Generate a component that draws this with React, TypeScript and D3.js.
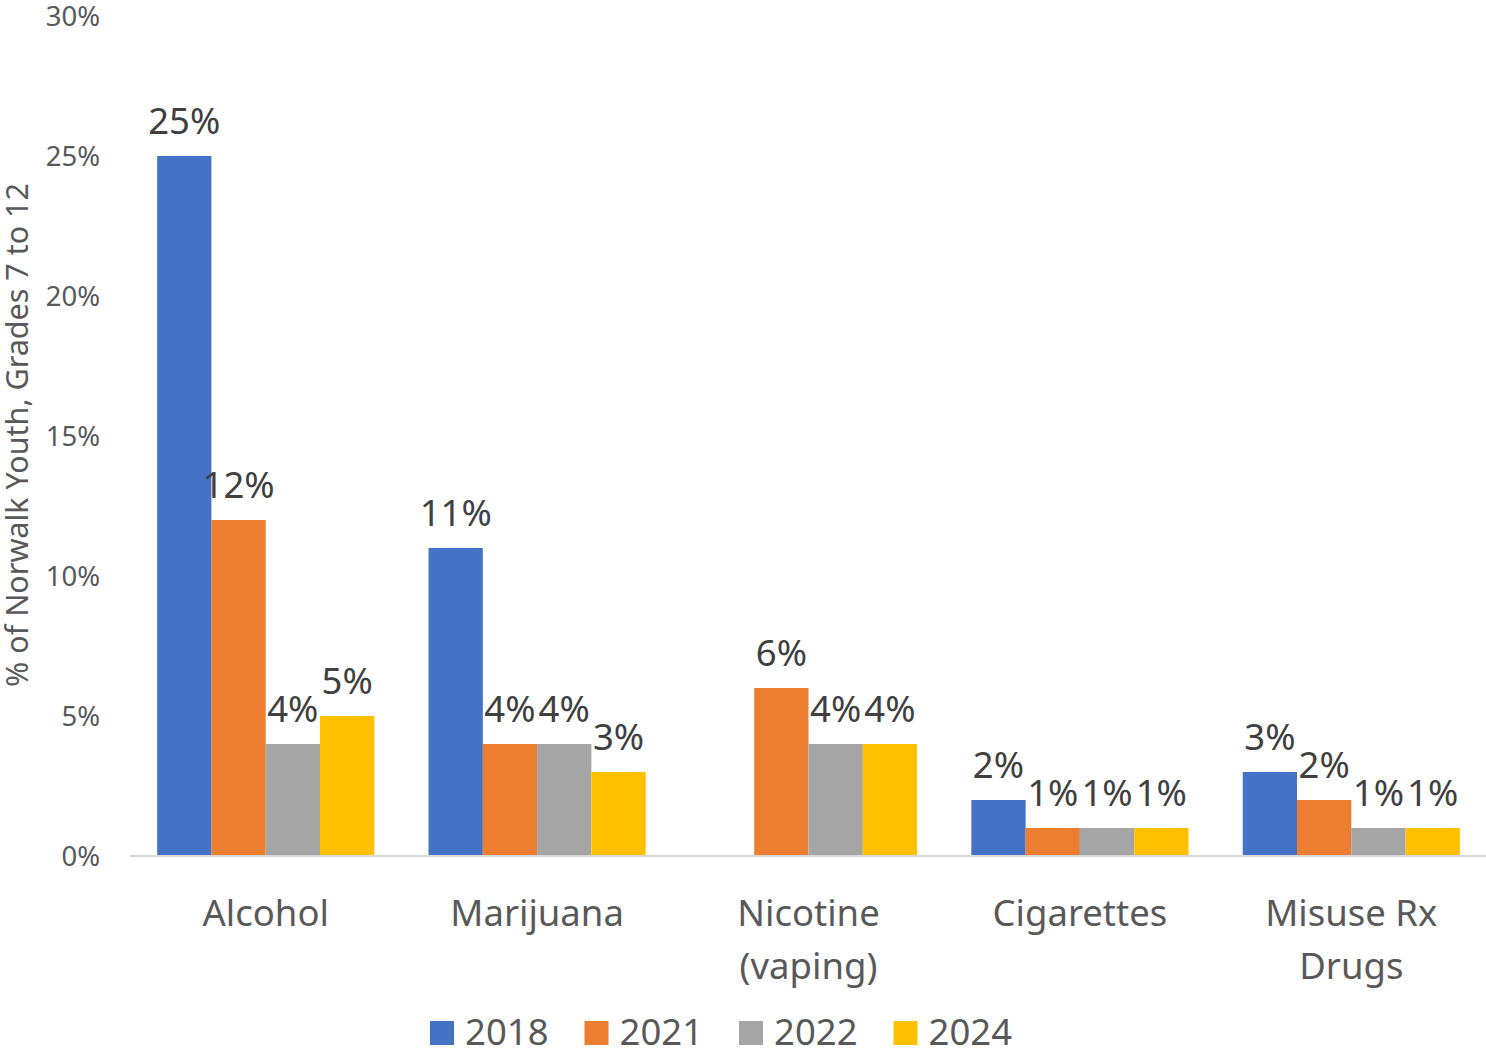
import React from "react";
import * as d3 from "d3";

const categories = ["Alcohol", "Marijuana", "Nicotine\n(vaping)", "Cigarettes", "Misuse Rx\nDrugs"];
const years = ["2018", "2021", "2022", "2024"];
const values2018: (number | null)[] = [25, 11, null, 2, 3];
const values2021: (number | null)[] = [12, 4, 6, 1, 2];
const values2022: (number | null)[] = [4, 4, 4, 1, 1];
const values2024: (number | null)[] = [5, 3, 4, 1, 1];
const seriesColors = ["#4472C4", "#ED7D31", "#A5A5A5", "#FFC000"];
const yTicks = [0, 5, 10, 15, 20, 25, 30];
const yAxisTitle = "% of Norwalk Youth, Grades 7 to 12";

const W = 1486;
const H = 1051;
const FONT = "'Noto Sans', 'Open Sans', sans-serif";

export default function App() {
  const series = [values2018, values2021, values2022, values2024];
  const x0 = d3.scaleBand<string>().domain(categories).range([130, 1487]).paddingInner(0.2).paddingOuter(0.1);
  const x1 = d3.scaleBand<string>().domain(years).range([0, x0.bandwidth()]);
  const y = d3.scaleLinear().domain([0, 30]).range([856, 16]);

  return (
    <svg width={W} height={H} style={{ position: "absolute", left: 0, top: 0, background: "#fff" }} fontFamily={FONT}>
      {/* y tick labels */}
      {yTicks.map((t) => (
        <text key={t} x={100} y={y(t)} dy="0.36em" textAnchor="end" fontSize={27.5} fill="#595959">
          {t}%
        </text>
      ))}
      {/* y axis title */}
      <text
        transform={`translate(28, ${435}) rotate(-90)`}
        textAnchor="middle"
        fontSize={30.5}
        fill="#595959"
      >
        {yAxisTitle}
      </text>
      {/* bars */}
      {categories.map((c, ci) => (
        <g key={c} transform={`translate(${x0(c)},0)`}>
          {series.map((s, si) => {
            const v = s[ci];
            if (v == null) return null;
            const bx = x1(years[si])!;
            return (
              <g key={si}>
                <rect x={bx} y={y(v)} width={x1.bandwidth()} height={y(0) - y(v)} fill={seriesColors[si]} />
                <text
                  x={bx + x1.bandwidth() / 2}
                  y={y(v) - 22}
                  textAnchor="middle"
                  fontSize={36.5}
                  fill="#404040"
                >
                  {v}%
                </text>
              </g>
            );
          })}
        </g>
      ))}
      {/* x axis line */}
      <line x1={130} x2={1486} y1={y(0)} y2={y(0)} stroke="#D9D9D9" strokeWidth={2} />
      {/* category labels */}
      {categories.map((c) => (
        <text key={c} textAnchor="middle" fontSize={36.5} fill="#595959">
          {c.split("\n").map((line, li) => (
            <tspan key={li} x={x0(c)! + x0.bandwidth() / 2} y={926 + li * 53}>
              {line}
            </tspan>
          ))}
        </text>
      ))}
      {/* legend */}
      {years.map((yr, i) => (
        <g key={yr} transform={`translate(${430 + i * 154.5}, 1021)`}>
          <rect width={24} height={24} fill={seriesColors[i]} />
          <text x={35} y={24} fontSize={36.5} fill="#595959">
            {yr}
          </text>
        </g>
      ))}
    </svg>
  );
}
